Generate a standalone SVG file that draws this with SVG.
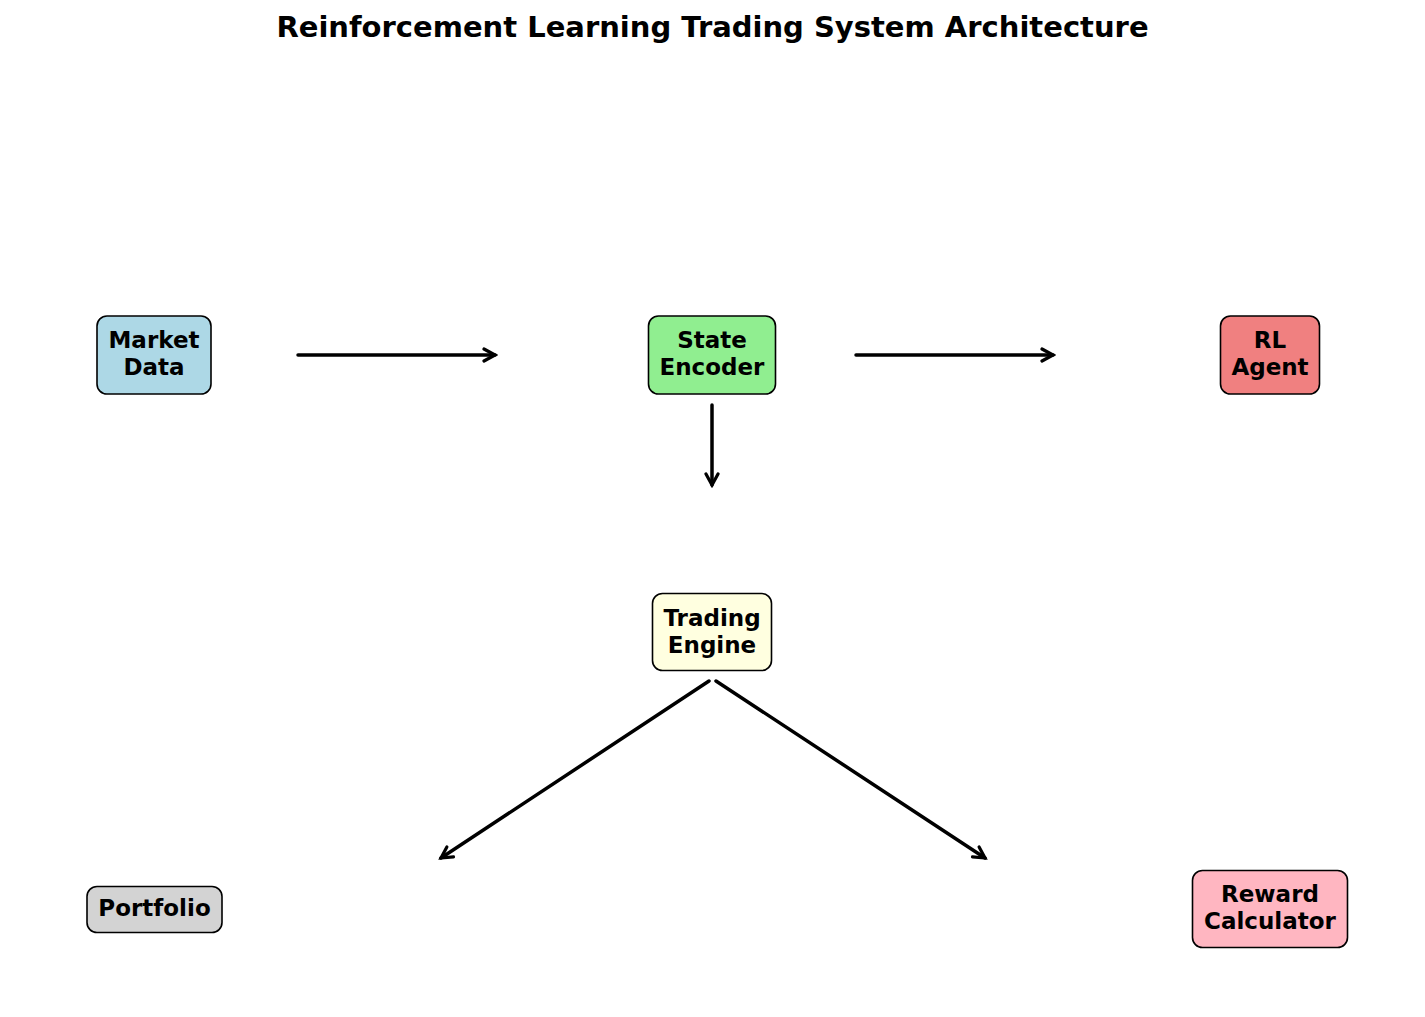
<svg xmlns="http://www.w3.org/2000/svg" width="1425" height="1017" viewBox="0 0 1425 1017">
<style>
.box{stroke:#000;stroke-width:1.6}
.lbl{font-family:"DejaVu Sans",sans-serif;font-weight:bold;font-size:23px;text-anchor:middle;fill:#000}
.title{font-family:"DejaVu Sans",sans-serif;font-weight:bold;font-size:29px;text-anchor:middle;fill:#000}
.edge{stroke:#000;stroke-width:3.5;fill:none;stroke-linecap:round}
</style>
<defs>
<marker id="ah" viewBox="0 0 16 16" refX="13" refY="8" markerWidth="16" markerHeight="16" markerUnits="userSpaceOnUse" orient="auto">
<path d="M2,2 L13,8 L2,14" fill="none" stroke="#000" stroke-width="3.2" stroke-linejoin="miter" stroke-linecap="round"/>
</marker>
</defs>
<rect width="1425" height="1017" fill="#fff"/>
<text class="title" x="712.5" y="37">Reinforcement Learning Trading System Architecture</text>
<g id="connectors">
<line class="edge" x1="298" y1="355" x2="495" y2="355" marker-end="url(#ah)"/>
<line class="edge" x1="856" y1="355" x2="1053" y2="355" marker-end="url(#ah)"/>
<line class="edge" x1="712" y1="405" x2="712" y2="485" marker-end="url(#ah)"/>
<line class="edge" x1="709" y1="681" x2="441" y2="858" marker-end="url(#ah)"/>
<line class="edge" x1="716" y1="681" x2="985" y2="858" marker-end="url(#ah)"/>
</g>
<g id="market-data">
<rect class="box" x="97" y="316" width="114" height="78" rx="10" fill="#ADD8E6"/>
<text class="lbl" x="154" y="348">Market</text>
<text class="lbl" x="154" y="375">Data</text>
</g>
<g id="state-encoder">
<rect class="box" x="648.5" y="316" width="127" height="78" rx="10" fill="#90EE90"/>
<text class="lbl" x="712" y="348">State</text>
<text class="lbl" x="712" y="375">Encoder</text>
</g>
<g id="rl-agent">
<rect class="box" x="1220.5" y="316" width="99" height="78" rx="10" fill="#F08080"/>
<text class="lbl" x="1270" y="348">RL</text>
<text class="lbl" x="1270" y="375">Agent</text>
</g>
<g id="trading-engine">
<rect class="box" x="652.5" y="593.5" width="119" height="77" rx="10" fill="#FFFFE0"/>
<text class="lbl" x="712" y="625.5">Trading</text>
<text class="lbl" x="712" y="652.5">Engine</text>
</g>
<g id="portfolio">
<rect class="box" x="87" y="886.5" width="135" height="46" rx="10" fill="#D3D3D3"/>
<text class="lbl" x="154.5" y="916">Portfolio</text>
</g>
<g id="reward-calculator">
<rect class="box" x="1192.5" y="870.5" width="155" height="77" rx="10" fill="#FFB6C1"/>
<text class="lbl" x="1270" y="902">Reward</text>
<text class="lbl" x="1270" y="929">Calculator</text>
</g>
</svg>
